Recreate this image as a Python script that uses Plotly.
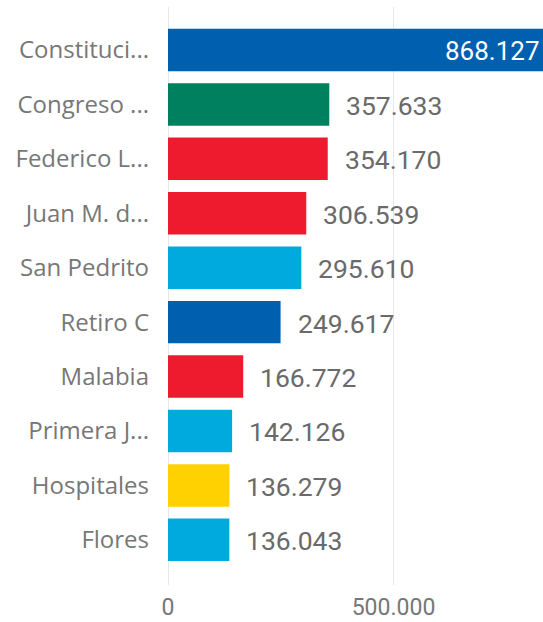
import plotly.graph_objects as go

categories = ["Constituci...", "Congreso ...", "Federico L...", "Juan M. d...", "San Pedrito",
              "Retiro C", "Malabia", "Primera J...", "Hospitales", "Flores"]
values = [868127, 357633, 354170, 306539, 295610, 249617, 166772, 142126, 136279, 136043]
colors = ["#0060B0", "#00805F", "#EE1B2E", "#EE1B2E", "#00AADF",
          "#0060B0", "#EE1B2E", "#00AADF", "#FFD100", "#00AADF"]

XMAX = 831500

fig = go.Figure()
fig.add_trace(go.Bar(
    y=categories, x=values, orientation="h",
    marker=dict(color=colors, line=dict(width=0)),
    width=0.78, hoverinfo="skip",
))

def fmt(v):
    return f"{v:,}".replace(",", ".")

for c, v in zip(categories, values):
    if v > XMAX * 0.9:
        fig.add_annotation(x=XMAX, y=c, text=fmt(v), showarrow=False, xanchor="right",
                           xshift=-1, yshift=-1,
                           font=dict(family="Roboto", size=26, color="white"))
    else:
        fig.add_annotation(x=v, y=c, text=fmt(v), showarrow=False, xanchor="left",
                           xshift=15, yshift=-1,
                           font=dict(family="Roboto", size=26.5, color="#6a6a6a"))

fig.update_layout(
    width=543, height=622,
    margin=dict(l=168, r=0, t=7, b=37),
    plot_bgcolor="white", paper_bgcolor="white",
    separators=",.",
    showlegend=False,
    xaxis=dict(range=[0, XMAX], dtick=500000, tickformat=",d", showgrid=True,
               gridcolor="#e6e6e6", gridwidth=1, zeroline=True, zerolinecolor="#e6e6e6",
               zerolinewidth=1, showline=False, ticks="",
               tickfont=dict(family="Roboto", size=23, color="#777777"), ticklabelstandoff=6),
    yaxis=dict(autorange=False, range=[9.83, -0.79], showgrid=False, zeroline=False,
               showline=False, ticks="", ticklabelstandoff=18,
               tickfont=dict(family="Open Sans", size=24, color="#777777")),
)

fig.write_html("out.html")
